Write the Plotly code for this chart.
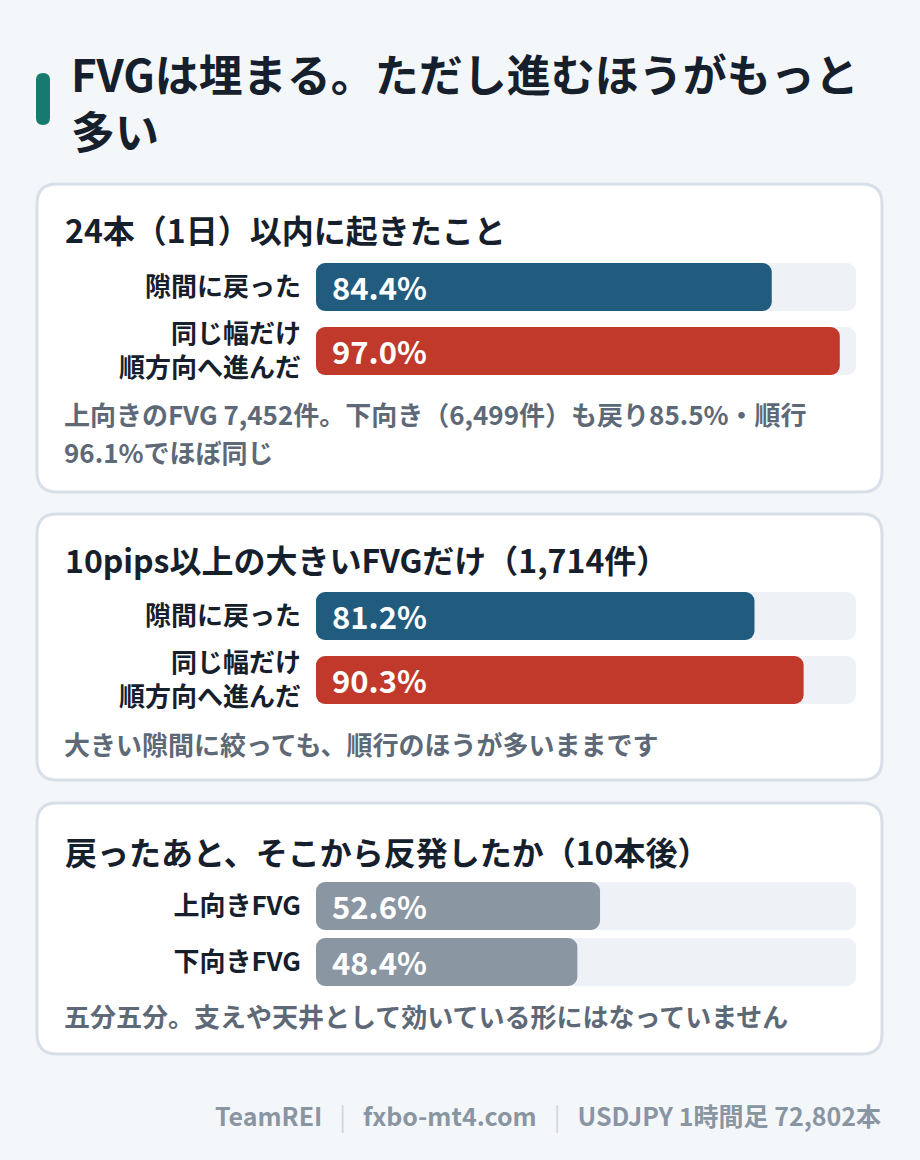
import plotly.graph_objects as go

W, H = 920, 1160
FONT = "Noto Sans CJK JP"

# data
title_lines = ["FVGは埋まる。ただし進むほうがもっと", "多い"]

card1_title = "24本（1日）以内に起きたこと"
card1_labels = ["隙間に戻った", "同じ幅だけ<br>順方向へ進んだ"]
card1_values = [84.4, 97.0]
card1_note = ["上向きのFVG 7,452件。下向き（6,499件）も戻り85.5%・順行", "96.1%でほぼ同じ"]

card2_title = "10pips以上の大きいFVGだけ（1,714件）"
card2_labels = ["隙間に戻った", "同じ幅だけ<br>順方向へ進んだ"]
card2_values = [81.2, 90.3]
card2_note = ["大きい隙間に絞っても、順行のほうが多いままです"]

card3_title = "戻ったあと、そこから反発したか（10本後）"
card3_labels = ["上向きFVG", "下向きFVG"]
card3_values = [52.6, 48.4]
card3_note = ["五分五分。支えや天井として効いている形にはなっていません"]

footer_parts = ["TeamREI", "fxbo-mt4.com", "USDJPY 1時間足 72,802本"]

BLUE, RED, GRAY = "#215b7e", "#c0392b", "#8b96a3"
TRACK = "#eef2f7"
DARK = "#16202c"
NOTE = "#5e6977"


def px(x):
    return x / W


def py(y):
    return 1 - y / H


def rounded(x0, y0, x1, y1, r):
    pts = [
        ("M", x0 + r, y0), ("L", x1 - r, y0), ("Q", x1, y0, x1, y0 + r),
        ("L", x1, y1 - r), ("Q", x1, y1, x1 - r, y1), ("L", x0 + r, y1),
        ("Q", x0, y1, x0, y1 - r), ("L", x0, y0 + r), ("Q", x0, y0, x0 + r, y0),
    ]
    out = ""
    for p in pts:
        if p[0] == "Q":
            out += f"Q{px(p[1]):.5f},{py(p[2]):.5f} {px(p[3]):.5f},{py(p[4]):.5f} "
        else:
            out += f"{p[0]}{px(p[1]):.5f},{py(p[2]):.5f} "
    return out + "Z"


def text(t, x, y, size, color, anchor="left", weight=700):
    return dict(text=t, x=px(x), y=py(y), xref="paper", yref="paper", xanchor=anchor,
                yanchor="middle", showarrow=False, borderpad=0,
                font=dict(family=FONT, size=size, color=color, weight=weight))


fig = go.Figure()

cards = [
    # (title, labels, values, colors, note lines, card box, title y, axis top/bottom px, bar width, note y)
    (card1_title, card1_labels, card1_values, [BLUE, RED], card1_note, (37, 184, 882, 492), 229, (255, 383), 0.75, 413),
    (card2_title, card2_labels, card2_values, [BLUE, RED], card2_note, (37, 514, 882, 780), 559, (584, 712), 0.75, 743),
    (card3_title, card3_labels, card3_values, [GRAY, GRAY], card3_note, (37, 803, 882, 1054), 851, (878, 990), 48 / 56, 1015),
]

shapes = [dict(type="path", path=rounded(36, 73, 50, 125, 7), xref="paper", yref="paper",
               fillcolor="#167b6e", line=dict(width=0), layer="below")]
annotations = [text(line, 70, 73 + 57 * k, 44, DARK) for k, line in enumerate(title_lines)]

for i, (ctitle, labels, values, colors, note, box, ty, (yt, yb), bw, ny) in enumerate(cards):
    n = "" if i == 0 else str(i + 1)
    xa, ya = "x" + n, "y" + n
    shapes.append(dict(type="path", path=rounded(*box, 20), xref="paper", yref="paper",
                       fillcolor="white", line=dict(color="#d7dfe9", width=3), layer="below"))
    annotations.append(text(ctitle, 64, ty, 32, DARK))
    for k, line in enumerate(note):
        annotations.append(text(line, 63, ny + 38 * k, 26, NOTE))
    # track (explicit base -> all four corners rounded)
    fig.add_trace(go.Bar(x=[100] * len(labels), base=[0] * len(labels), y=labels, orientation="h",
                         width=bw, marker=dict(color=TRACK, cornerradius=9, line=dict(width=0)),
                         xaxis=xa, yaxis=ya, hoverinfo="skip", showlegend=False))
    fig.add_trace(go.Bar(x=values, base=[0] * len(values), y=labels, orientation="h", width=bw,
                         marker=dict(color=colors, cornerradius=9, line=dict(width=0)),
                         xaxis=xa, yaxis=ya, showlegend=False))
    for lab, v in zip(labels, values):
        annotations.append(dict(text=f"{v:.1f}%", x=0, y=lab, xref=xa, yref=ya, xanchor="left",
                                yanchor="middle", xshift=14, yshift=1, showarrow=False,
                                font=dict(family=FONT, size=31, color="white", weight=700)))
    axis_x = dict(domain=[px(316), px(856)], range=[0, 100], visible=False, fixedrange=True)
    axis_y = dict(domain=[py(yb), py(yt)], range=[1.5, -0.5], showgrid=False, zeroline=False,
                  showline=False, ticks="", ticklabelstandoff=14, fixedrange=True,
                  tickfont=dict(family=FONT, size=26, color=DARK, weight=700))
    if i > 0:
        axis_x["anchor"] = ya
        axis_y["anchor"] = xa
    fig.layout["xaxis" + n] = axis_x
    fig.layout["yaxis" + n] = axis_y

gap = "\u00a0\u00a0\u00a0"
sep = gap + "<span style='color:#cfd6de;font-weight:400'>|</span>" + gap
annotations.append(text(sep.join(footer_parts), 882, 1115, 25, "#8a95a2", anchor="right"))

fig.update_layout(
    width=W, height=H,
    margin=dict(l=0, r=0, t=0, b=0),
    paper_bgcolor="#f4f7fa", plot_bgcolor="rgba(0,0,0,0)",
    barmode="overlay",
    shapes=shapes, annotations=annotations,
    font=dict(family=FONT),
)

fig.write_html("out.html", config={"displayModeBar": False},
               post_script="document.body.style.margin='0';")
